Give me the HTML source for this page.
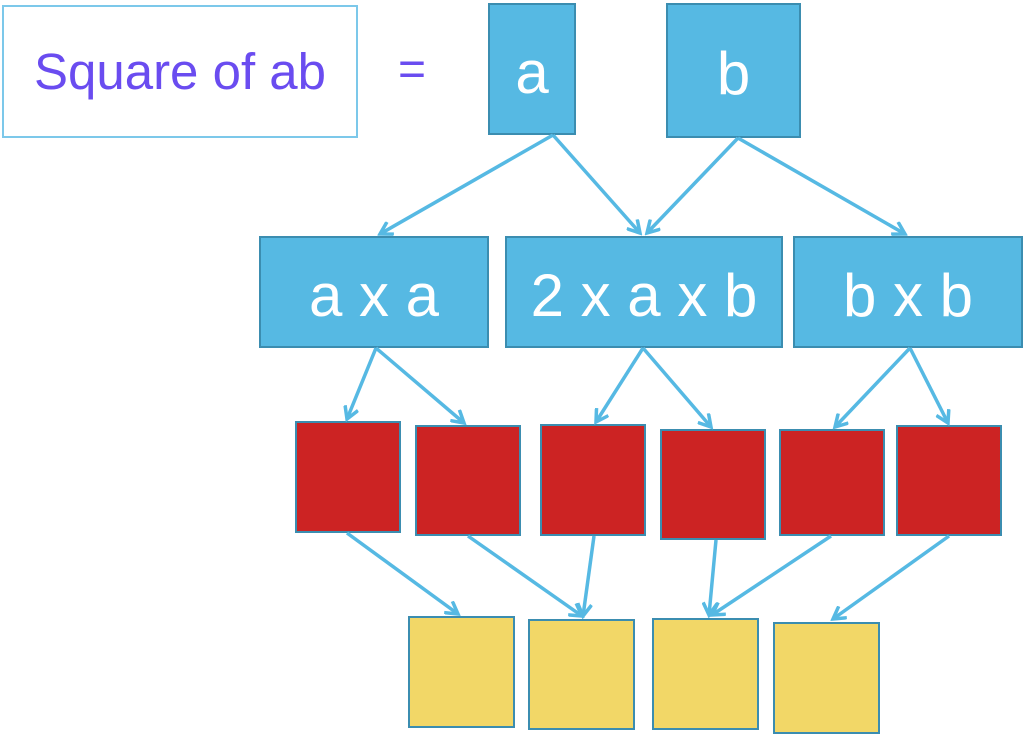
<!DOCTYPE html>
<html><head><style>
body{margin:0;width:1024px;height:734px;background:#fff;overflow:hidden;position:relative;font-family:"Liberation Sans",sans-serif}
.b{position:absolute;box-sizing:border-box}
.bl{background:#56b9e3;border:2px solid #3b8db0;color:#fff;font-size:60px;display:flex;align-items:center;justify-content:center;font-weight:300;padding-top:6px}
.r{background:#cc2323;border:2px solid #3b8db0}
.y{background:#f2d767;border:2px solid #3b8db0}
</style></head><body>
<div class="b" style="left:2px;top:5px;width:356px;height:133px;border:2px solid #7cc8ea;color:#6a4cf0;font-size:51px;display:flex;align-items:center;justify-content:center">Square of ab</div>
<div class="b" style="left:398px;top:42px;color:#6a4cf0;font-size:48px">=</div>
<div class="b bl" style="left:488px;top:3px;width:88px;height:132px">a</div>
<div class="b bl" style="left:666px;top:3px;width:135px;height:135px">b</div>
<div class="b bl" style="left:259px;top:236px;width:230px;height:112px">a x a</div>
<div class="b bl" style="left:505px;top:236px;width:278px;height:112px">2 x a x b</div>
<div class="b bl" style="left:793px;top:236px;width:230px;height:112px">b x b</div>
<div class="b r" style="left:295px;top:421px;width:106px;height:112px"></div>
<div class="b r" style="left:415px;top:425px;width:106px;height:111px"></div>
<div class="b r" style="left:540px;top:424px;width:106px;height:112px"></div>
<div class="b r" style="left:660px;top:429px;width:106px;height:111px"></div>
<div class="b r" style="left:779px;top:429px;width:106px;height:107px"></div>
<div class="b r" style="left:896px;top:425px;width:106px;height:111px"></div>
<div class="b y" style="left:408px;top:616px;width:107px;height:112px"></div>
<div class="b y" style="left:528px;top:619px;width:107px;height:111px"></div>
<div class="b y" style="left:652px;top:618px;width:107px;height:112px"></div>
<div class="b y" style="left:773px;top:622px;width:107px;height:112px"></div>
<svg class="b" style="left:0;top:0" width="1024" height="734">
<defs><marker id="m" markerWidth="16" markerHeight="16" refX="13" refY="8" orient="auto" markerUnits="userSpaceOnUse"><path d="M1,1 L13,8 L1,15" fill="none" stroke="#56b9e3" stroke-width="3.5"/></marker></defs>
<g stroke="#56b9e3" stroke-width="3.5" marker-end="url(#m)">
<line x1="553" y1="135" x2="380" y2="234"/>
<line x1="553" y1="135" x2="640" y2="233"/>
<line x1="738" y1="138" x2="647" y2="233"/>
<line x1="738" y1="138" x2="905" y2="234"/>
<line x1="376" y1="348" x2="347" y2="419"/>
<line x1="376" y1="348" x2="464" y2="423"/>
<line x1="643" y1="348" x2="596" y2="422"/>
<line x1="643" y1="348" x2="711" y2="427"/>
<line x1="910" y1="348" x2="835" y2="427"/>
<line x1="910" y1="348" x2="948" y2="423"/>
<line x1="347" y1="533" x2="458" y2="614"/>
<line x1="468" y1="536" x2="582" y2="616"/>
<line x1="594" y1="536" x2="583" y2="616"/>
<line x1="716" y1="540" x2="709" y2="615"/>
<line x1="831" y1="536" x2="712" y2="615"/>
<line x1="949" y1="536" x2="833" y2="619"/>
</g></svg>
</body></html>
